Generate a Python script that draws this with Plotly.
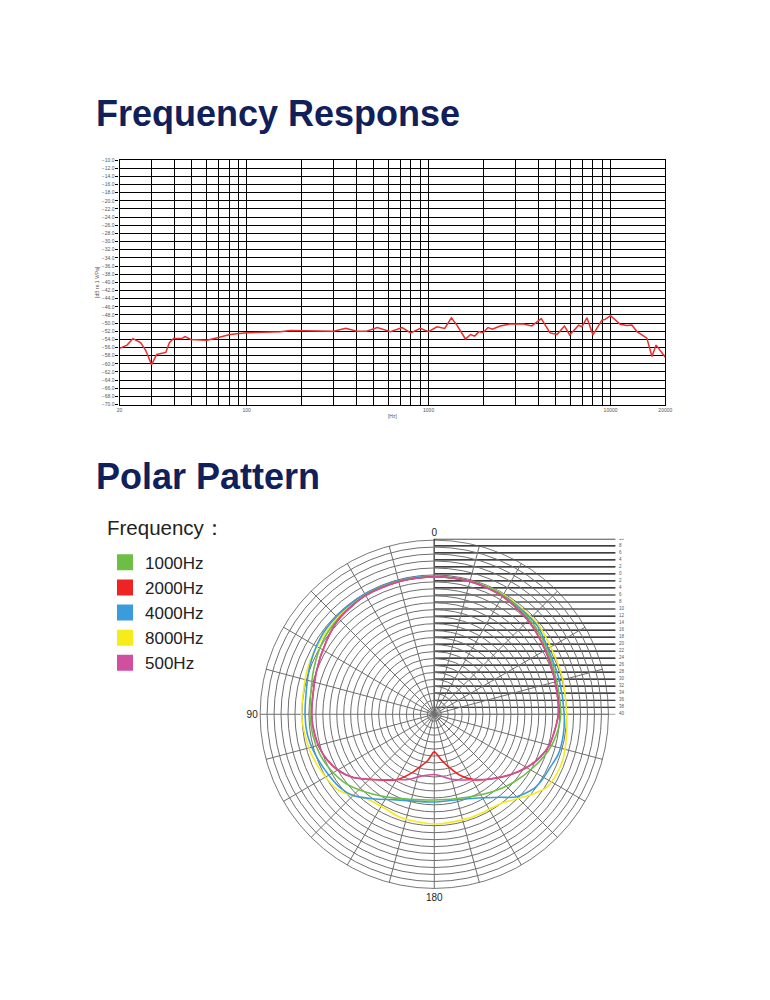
import plotly.graph_objects as go

# the html body adds an 8 px margin round the figure
PAGE_W, PAGE_H = 770, 1000
PAD = 8
W, H = PAGE_W - 2 * PAD, PAGE_H - 2 * PAD
FONT = "Liberation Sans, Arial, sans-serif"
NAVY = "#10205a"

# the photographed page comes out slightly squeezed; these undo it
SX, OX = 0.9853, 2.75
SY, OY = 0.9959, 0.65


def px(x):
    """target x pixel in the picture -> paper coordinate"""
    return ((x - OX) / SX - PAD) / W


def py(y):
    """target y pixel (from top) in the picture -> paper coordinate"""
    return 1 - ((y - OY) / SY - PAD) / H


# ---- frequency response ----
fr_freq = [20, 22, 23.7, 26.1, 27.8, 30, 32, 35.9, 37.6, 39.6,
           44, 45.8, 49.3, 60.5, 69, 81, 100, 153, 174, 301,
           350, 403, 456, 522, 617, 715, 797, 900, 1000, 1110,
           1226, 1334, 1430, 1594, 1700, 1790, 1890, 1990, 2120, 2240,
           2475, 2800, 3333, 3690, 4160, 4650, 5080, 5580, 5960, 6680,
           6950, 7420, 8000, 8960, 9340, 10000, 11300, 12300, 13100, 13980,
           15830, 16890, 17800, 20000]
fr_db = [-56.2, -55.4, -53.8, -54.8, -56.6, -60.2, -57.7, -57.2, -54.8, -53.8,
         -53.8, -53.3, -54.0, -54.2, -53.6, -52.8, -52.4, -52.1, -51.8, -52.0,
         -51.3, -52.0, -52.0, -51.1, -52.1, -51.1, -52.4, -51.3, -52.1, -50.9,
         -51.3, -48.7, -50.5, -53.9, -52.8, -53.2, -52.1, -52.4, -51.1, -51.5,
         -50.7, -50.2, -50.2, -50.7, -48.9, -52.4, -52.8, -50.7, -52.9, -50.5,
         -50.9, -48.7, -52.9, -49.3, -49.1, -48.2, -50.3, -50.6, -50.5, -52.1,
         -53.7, -58.2, -55.4, -58.4]

grid_freqs = [20, 30, 40, 50, 60, 70, 80, 90, 100, 200, 300, 400, 500, 600,
              700, 800, 900, 1000, 2000, 3000, 4000, 5000, 6000, 7000, 8000,
              9000, 10000, 20000]
grid_labels = ["20", "", "", "", "", "", "", "", "100", "", "", "", "", "",
               "", "", "", "1000", "", "", "", "", "", "", "", "", "10000", "20000"]

# ---- polar pattern (angle 0 = top, 90 = left) ----
theta_1000 = [0, 15, 30, 44.5, 56, 70, 90, 99.3, 109.2, 118.8, 128.4, 139, 153.6, 180,
              201.6, 217.7, 229.4, 241.9, 252.3, 260.8, 270, 285, 296, 311, 330, 345, 360]
r_1000 = [-0.5, -0.5, -0.4, -1.1, -1.65, -3.1, -4.3, -4.6, -5.2, -6.3, -7.8, -10.3, -13.2, -15.4,
          -14.4, -12.1, -10.0, -7.7, -5.6, -4.4, -3.7, -3.6, -3.0, -1.6, -0.6, -0.4, -0.5]

theta_2000 = [0, 15, 30, 45, 56, 70, 90, 100, 110, 120, 128, 136.5, 150, 159.6, 164.3, 171.8, 180,
              188, 194.1, 203.1, 211, 221, 231.5, 240, 248, 255, 270, 285, 300, 315, 330, 345, 360]
r_2000 = [-0.5, -0.6, -0.6, -1.3, -2.6, -4.0, -4.8, -5.2, -6.1, -8.0, -10.5, -14.2, -18.3, -22.2, -24.2, -26.5, -29.2,
          -27.0, -24.8, -20.9, -18.1, -15.4, -12.1, -9.4, -7.2, -5.8, -4.4, -4.1, -3.2, -1.9, -0.9, -0.5, -0.5]

theta_4000 = [0, 15, 30, 44.5, 56, 70, 90, 98.9, 108.4, 118.3, 127.7, 135, 144, 156, 170, 180,
              195, 210.4, 218.4, 224.5, 233, 238.2, 245.4, 252.2, 261.2, 270, 285, 296, 311, 330, 345, 360]
r_4000 = [-0.4, -0.3, -0.1, -0.3, -0.6, -1.8, -2.9, -3.1, -3.9, -4.9, -5.7, -7.0, -10.0, -13.1, -14.6, -14.8,
          -14.6, -12.2, -9.6, -6.7, -4.4, -3.8, -3.4, -2.6, -2.5, -2.7, -2.8, -2.6, -1.0, -0.5, -0.4, -0.4]

theta_8000 = [0, 15, 30, 44.5, 56, 70, 90, 98.7, 108, 118.2, 127.3, 133.6, 141.2, 151, 161.3, 180,
              197.4, 206.8, 216.4, 224.3, 231.3, 237, 244, 251.5, 261.5, 270, 285, 295.7, 311, 330, 345, 360]
r_8000 = [-0.5, -0.5, -0.4, -0.75, -1.0, -1.3, -1.9, -2.4, -2.9, -3.8, -4.7, -6.5, -8.9, -9.5, -8.9, -8.5,
          -8.6, -8.5, -8.1, -6.1, -3.5, -1.5, -0.9, -0.9, -1.6, -2.0, -1.8, -1.6, -0.6, -0.3, -0.4, -0.5]

theta_500 = [0, 15, 30, 45, 56, 70, 90, 100, 110, 120, 128, 136.5, 150, 158, 166.5, 180,
             196.7, 211, 221, 231.5, 240, 248, 255, 270, 285, 300, 315, 330, 345, 360]
r_500 = [-0.5, -0.6, -0.6, -1.3, -2.6, -4.0, -4.8, -5.2, -6.1, -8.0, -10.5, -14.2, -18.3, -19.8, -21.6, -22.7,
         -20.4, -18.1, -15.4, -12.1, -9.4, -7.2, -5.8, -4.4, -4.1, -3.2, -1.9, -0.9, -0.5, -0.5]

legend_names = ["1000Hz", "2000Hz", "4000Hz", "8000Hz", "500Hz"]
legend_colors = ["#6cbe45", "#ee2424", "#3b9cdb", "#f6ec1c", "#d14f9f"]

scale_levels = [10, 8, 6, 4, 2, 0, -2, -4, -6, -8, -10, -12, -14, -16, -18, -20,
                -22, -24, -26, -28, -30, -32, -34, -36, -38, -40]
scale_labels = ["10", "8", "6", "4", "2", "0", "2", "4", "6", "8", "10", "12", "14", "16",
                "18", "20", "22", "24", "26", "28", "30", "32", "34", "36", "38", "40"]
angle_ticks = [0, 15, 30, 45, 60, 75, 90, 105, 120, 135, 150, 165, 180,
               195, 210, 225, 240, 255, 270, 285, 300, 315, 330, 345]
angle_labels = ["0", "", "", "", "", "", "90", "", "", "", "", "", "180",
                "", "", "", "", "", "", "", "", "", "", ""]

# polar placement: centre (433.3, 713.3) in the picture, radius ~175 px
cx, cy = 433.3, 713.3
R = 176.5  # figure px
Rx, Ry = R / W, R / H
ccx, ccy = px(cx), py(cy)
pol_x = [ccx - Rx, ccx + Rx]
pol_y = [ccy - Ry, ccy + Ry]
px_per_db = R / 50.0
scale_x = [pol_x[0], px(645)]
scale_xr = [-50, -50 + (scale_x[1] - scale_x[0]) * W / px_per_db]

fig = go.Figure()

fig.add_trace(go.Scatter(x=fr_freq, y=fr_db, mode="lines",
                         line=dict(color="#ee2b2b", width=1.5),
                         showlegend=False, hoverinfo="x+y"))

# black scale lines over the right half of the polar chart
sx, sy = [0, 0, None], [0, 50, None]
for lv in scale_levels[:-1]:
    sx += [0, 52, None]
    sy += [lv + 40, lv + 40, None]
fig.add_trace(go.Scatter(x=sx, y=sy, mode="lines", line=dict(color="black", width=1.2),
                         xaxis="x2", yaxis="y2", hoverinfo="skip", showlegend=False))
fig.add_trace(go.Scatter(x=[0, 52], y=[0, 0], mode="lines", line=dict(color="#888", width=0.8),
                         xaxis="x2", yaxis="y2", hoverinfo="skip", showlegend=False))
fig.add_trace(go.Scatter(x=[53] * len(scale_levels), y=[lv + 40 for lv in scale_levels],
                         mode="text", text=scale_labels, textposition="middle right",
                         textfont=dict(size=4.5, color="#555", family=FONT),
                         xaxis="x2", yaxis="y2", hoverinfo="skip", showlegend=False))

curves = [
    (theta_8000, r_8000, legend_colors[3], "8000Hz"),
    (theta_4000, r_4000, legend_colors[2], "4000Hz"),
    (theta_1000, r_1000, legend_colors[0], "1000Hz"),
    (theta_2000, r_2000, legend_colors[1], "2000Hz"),
    (theta_500, r_500, legend_colors[4], "500Hz"),
]
for th, rr, col, nm in curves:
    fig.add_trace(go.Scatterpolar(theta=th, r=rr, mode="lines", name=nm,
                                  line=dict(color=col, width=1.6, shape="spline", smoothing=0.8),
                                  showlegend=False))

# legend entries
for nm, col in zip(legend_names, legend_colors):
    fig.add_trace(go.Scatter(x=[None], y=[None], mode="markers", name=nm,
                             marker=dict(symbol="square", size=17, color=col),
                             xaxis="x2", yaxis="y2"))

fig.update_layout(
    width=W, height=H, margin=dict(l=0, r=0, t=0, b=0),
    paper_bgcolor="white", plot_bgcolor="rgba(0,0,0,0)",
    font=dict(family=FONT, color="#222"),
    xaxis=dict(type="log", domain=[px(119), px(664)], range=[1.30103, 4.30103],
               tickmode="array", tickvals=grid_freqs, ticktext=grid_labels,
               showgrid=True, gridcolor="black", gridwidth=1.2,
               showline=True, linecolor="black", linewidth=1.2, mirror=True,
               ticks="", tickfont=dict(size=5, color="#555"),
               title=dict(text="[Hz]", font=dict(size=5, color="#555"), standoff=2),
               zeroline=False, anchor="y"),
    yaxis=dict(domain=[py(403), py(158)], range=[-70, -10],
               tick0=-70, dtick=2, tickformat=".1f",
               showgrid=True, gridcolor="black", gridwidth=1.2,
               showline=True, linecolor="black", linewidth=1.2, mirror=True,
               ticks="outside", ticklen=3, tickcolor="black", tickwidth=1,
               tickfont=dict(size=5, color="#555"),
               title=dict(text="[dB re 1 V/Pa]", font=dict(size=5, color="#555"), standoff=2),
               zeroline=False, anchor="x"),
    xaxis2=dict(domain=scale_x, range=scale_xr, visible=False, anchor="y2", fixedrange=True),
    yaxis2=dict(domain=pol_y, range=[-50, 50], visible=False, anchor="x2", fixedrange=True),
    polar=dict(
        domain=dict(x=pol_x, y=pol_y), bgcolor="rgba(0,0,0,0)",
        radialaxis=dict(range=[-40, 10], tick0=-40, dtick=2, showticklabels=False,
                        ticks="", showline=False, gridcolor="#6f6f6f", gridwidth=0.7),
        angularaxis=dict(rotation=90, direction="counterclockwise", tickmode="array",
                         tickvals=angle_ticks, ticktext=angle_labels, ticks="",
                         showline=True, linecolor="#555", linewidth=0.8,
                         gridcolor="#6f6f6f", gridwidth=0.7,
                         tickfont=dict(size=10, color="#222", family=FONT)),
    ),
    legend=dict(x=px(104.5), y=py(543.5), xanchor="left", yanchor="top",
                font=dict(size=17, color="#222", family=FONT),
                bgcolor="rgba(0,0,0,0)", traceorder="normal", itemsizing="trace"),
    annotations=[
        dict(text="<b>Frequency Response</b>", x=px(94), y=py(111), xref="paper", yref="paper",
             xanchor="left", yanchor="middle", showarrow=False,
             font=dict(size=36, color=NAVY, family=FONT)),
        dict(text="<b>Polar Pattern</b>", x=px(94), y=py(475), xref="paper", yref="paper",
             xanchor="left", yanchor="middle", showarrow=False,
             font=dict(size=36, color=NAVY, family=FONT)),
        dict(text="Frequency：", x=px(104), y=py(526), xref="paper", yref="paper",
             xanchor="left", yanchor="middle", showarrow=False,
             font=dict(size=20.5, color="#222", family=FONT)),
    ],
)

fig.write_html("out.html", config={"displayModeBar": False})
